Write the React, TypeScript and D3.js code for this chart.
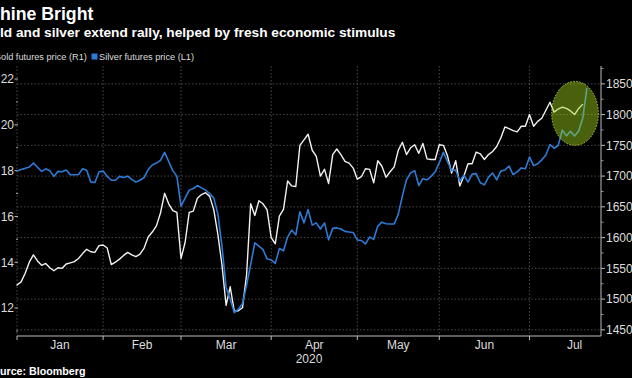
import React from "react";
import * as d3 from "d3";

const title = "Shine Bright";
const subtitle = "Gold and silver extend rally, helped by fresh economic stimulus";
const source = "Source: Bloomberg";
const goldLabel = "Gold futures price (R1)";
const silverLabel = "Silver futures price (L1)";

const monthNames = ["Jan", "Feb", "Mar", "Apr", "May", "Jun", "Jul"];
const monthStarts = [0, 21, 40, 62, 83, 103, 125, 147];
const yearLabel = "2020";

const leftTicks = [12, 14, 16, 18, 20, 22];
const leftMinor = [11, 13, 15, 17, 19, 21];
const rightTicks = [1450, 1500, 1550, 1600, 1650, 1700, 1750, 1800, 1850];
const rightMinor = [1475, 1525, 1575, 1625, 1675, 1725, 1775, 1825, 1875];

const silver = [
  17.98, 18.05, 18.1, 18.16, 18.33, 18.15, 17.97, 18.08, 18.0, 17.75,
  17.97, 17.95, 18.03, 17.82, 17.82, 17.83, 18.08, 18.02, 17.5, 17.48,
  17.95, 17.98, 17.75, 17.58, 17.58, 17.75, 17.7, 17.76, 17.62, 17.5,
  17.58, 17.7, 18.05, 18.25, 18.33, 18.45, 18.8, 18.4, 18.0, 17.75,
  16.45, 16.8, 17.15, 17.22, 17.35, 17.25, 17.15, 17.0, 16.8, 16.1,
  14.7, 12.9, 12.4, 11.8, 11.95, 12.2, 13.0, 13.9, 14.85, 14.7,
  14.55, 14.15, 14.1, 13.95, 14.6, 14.5, 15.1, 15.4, 15.2, 16.2,
  15.72, 16.3, 15.62, 15.72, 15.45, 15.72, 14.98, 15.48, 15.5, 15.45,
  15.35, 15.32, 15.3, 14.97, 14.95, 14.8, 15.1, 15.0, 15.58, 15.75,
  15.68, 15.67, 15.67, 16.1, 16.9, 17.6, 17.9, 18.0, 17.35, 17.65,
  17.6, 17.75, 17.95, 18.35, 18.8, 18.4, 18.0, 18.03, 17.55, 17.8,
  17.5, 17.85, 17.87, 17.47, 17.38, 17.72, 17.9, 17.6, 17.98, 18.03,
  18.2, 17.83, 17.95, 18.12, 18.08, 18.6, 18.22, 18.3, 18.47, 18.68,
  19.14, 18.98, 19.1, 19.77, 19.52, 19.72, 19.51, 19.73, 20.3, 21.6,
];

const gold = [
  1523, 1528, 1542, 1560, 1572, 1562, 1555, 1558, 1551, 1546,
  1551, 1550, 1557, 1559, 1561, 1566, 1574, 1581, 1577, 1576,
  1587, 1588, 1583, 1556, 1560, 1565, 1571, 1576, 1572, 1569,
  1573, 1583, 1601, 1609, 1619, 1640, 1672, 1655, 1644, 1641,
  1566, 1592, 1641, 1643, 1664, 1670, 1673, 1667, 1645, 1605,
  1555, 1490, 1520, 1480, 1481, 1486, 1540, 1655, 1636, 1660,
  1655, 1645, 1600, 1590, 1635, 1646, 1692, 1684, 1683, 1750,
  1759, 1768, 1742, 1732, 1700, 1711, 1688, 1735, 1744, 1735,
  1724, 1721, 1713, 1695, 1699, 1712, 1711, 1689, 1725, 1716,
  1698, 1707, 1715, 1742, 1755, 1735, 1746, 1751, 1737, 1753,
  1728, 1727, 1727, 1751, 1750, 1733, 1705, 1725, 1684, 1700,
  1720, 1720, 1739, 1736, 1727, 1735, 1740, 1748, 1762, 1780,
  1777, 1774, 1772, 1781, 1781, 1800, 1781, 1789, 1794, 1807,
  1820, 1804, 1809, 1812, 1810, 1806, 1800, 1810, 1817,
];

const W = 632;
const H = 378;
const left = 17;
const right = 601;
const top = 66;
const bottom = 336;

const FONT = "'Liberation Sans', Arial, sans-serif";

export default function App() {
  const x = d3.scaleLinear().domain([0, 142.44]).range([left, right]);
  const yL = d3.scaleLinear().domain([10.78, 22.57]).range([bottom, top]);
  const yR = d3.scaleLinear().domain([1440, 1879]).range([bottom, top]);

  const silverLine = d3
    .line<number>()
    .x((_, i) => x(i))
    .y((d) => yL(d));
  const goldLine = d3
    .line<number>()
    .x((_, i) => x(i))
    .y((d) => yR(d));

  const ellCx = x(136.1);
  const ellCy = yR(1802);
  const ellRx = x(5.7) - x(0);
  const ellRy = yR(1800) - yR(1852);

  return (
    <svg
      width={W}
      height={H}
      style={{ position: "fixed", left: 0, top: 0, background: "#000" }}
      fontFamily={FONT}
    >
      <rect x={0} y={0} width={W} height={H} fill="#000" />
      {/* titles */}
      <text x={-11.8} y={20} fill="#fff" fontSize={17.7} fontWeight="bold">
        {title}
      </text>
      <text x={-19} y={36.5} fill="#fff" fontSize={13.7} fontWeight="bold">
        {subtitle}
      </text>
      {/* legend */}
      <rect x={-14} y={53.5} width={6} height={6} fill="#fff" />
      <text x={-6.1} y={60} fill="#ddd" fontSize={9.2}>
        {goldLabel}
      </text>
      <rect x={91.5} y={53.5} width={6} height={6} fill="#2e7bd6" />
      <text x={99} y={60} fill="#ddd" fontSize={9.2}>
        {silverLabel}
      </text>

      {/* grid */}
      <g stroke="#5a5a5a" strokeWidth={0.8} strokeDasharray="1.5,2">
        {rightTicks.map((t) => (
          <line key={"h" + t} x1={left} x2={right} y1={yR(t)} y2={yR(t)} />
        ))}
        {monthStarts.slice(0, 7).map((m) => (
          <line key={"v" + m} x1={x(m)} x2={x(m)} y1={top} y2={bottom} />
        ))}
      </g>

      {/* x axis */}
      <line x1={left} x2={right} y1={bottom} y2={bottom} stroke="#bbb" strokeWidth={1} />
      {monthStarts.slice(0, 7).map((m) => (
        <line key={"xt" + m} x1={x(m)} x2={x(m)} y1={bottom} y2={bottom + 4} stroke="#bbb" />
      ))}
      {monthNames.map((name, i) => (
        <text
          key={name}
          x={x((monthStarts[i] + monthStarts[i + 1]) / 2)}
          y={348.5}
          fill="#ddd"
          fontSize={12}
          textAnchor="middle"
        >
          {name}
        </text>
      ))}
      <text x={(left + right) / 2} y={363} fill="#ddd" fontSize={12} textAnchor="middle">
        {yearLabel}
      </text>

      {/* left axis */}
      {leftTicks.map((t) => (
        <g key={"l" + t}>
          <line x1={14.5} x2={18} y1={yL(t)} y2={yL(t)} stroke="#bbb" />
          <text x={14} y={yL(t) + 4.3} fill="#ddd" fontSize={12} textAnchor="end">
            {t}
          </text>
        </g>
      ))}
      {leftMinor.map((t) => (
        <line key={"lm" + t} x1={16} x2={18} y1={yL(t)} y2={yL(t)} stroke="#999" />
      ))}

      {/* right axis */}
      <line x1={right} x2={right} y1={top} y2={bottom} stroke="#bbb" strokeWidth={1} />
      {rightTicks.map((t) => (
        <g key={"r" + t}>
          <line x1={right} x2={right + 4} y1={yR(t)} y2={yR(t)} stroke="#bbb" />
          <text x={606} y={yR(t) + 4.3} fill="#ddd" fontSize={12}>
            {t}
          </text>
        </g>
      ))}
      {rightMinor.map((t) => (
        <line key={"rm" + t} x1={right} x2={right + 2.5} y1={yR(t)} y2={yR(t)} stroke="#999" />
      ))}

      {/* series */}
      <path d={goldLine(gold) || ""} fill="none" stroke="#f2f2f2" strokeWidth={1.4} strokeLinejoin="round" />
      <path d={silverLine(silver) || ""} fill="none" stroke="#2e7bd6" strokeWidth={1.6} strokeLinejoin="round" />

      {/* highlight */}
      <ellipse
        cx={ellCx}
        cy={ellCy}
        rx={ellRx}
        ry={ellRy}
        fill="#a2d81c"
        fillOpacity={0.45}
        stroke="#c8ec50"
        strokeOpacity={0.8}
        strokeWidth={1}
        strokeDasharray="1.5,1.5"
      />

      <text x={-13.7} y={375} fill="#fff" fontSize={10.7} fontWeight="bold">
        {source}
      </text>
    </svg>
  );
}
